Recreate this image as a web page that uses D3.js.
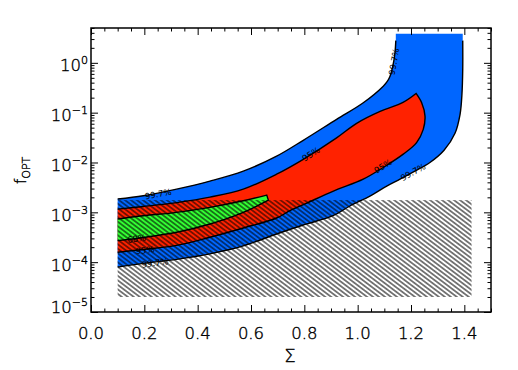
<!DOCTYPE html>
<html>
<head>
<meta charset="utf-8">
<script src="https://cdn.jsdelivr.net/npm/d3@7"></script>
<style>
  body { margin: 0; background: #fff; }
  text { font-family: "DejaVu Sans", sans-serif; fill: #000; }
  .light { font-weight: 200; stroke: #000; stroke-width: 0.4px; }
</style>
</head>
<body>
<svg id="canvas"></svg>
<script>
// confidence contours, points are [sigma, f_opt]
let c997Upper = [[0.10, 1.85e-3], [0.196, 2.15e-3], [0.321, 2.92e-3], [0.446, 4.23e-3], [0.571, 6.70e-3],
                 [0.696, 1.34e-2], [0.796, 2.79e-2], [0.921, 7.35e-2], [1.021, 0.158], [1.096, 0.34],
                 [1.111, 0.423], [1.121, 0.532], [1.133, 0.925], [1.14, 1.61], [1.143, 2.79]]
let c997Lower = [[1.394, 2.79], [1.394, 0.734], [1.391, 0.232], [1.384, 0.0925], [1.365, 0.0385],
                 [1.324, 0.0176], [1.271, 0.0100], [1.2075, 6.4e-3], [1.159, 4.63e-3], [1.109, 3.36e-3],
                 [1.046, 2.12e-3], [0.971, 1.34e-3], [0.9075, 8.55e-4], [0.796, 5.57e-4], [0.696, 3.68e-4],
                 [0.571, 2.12e-4], [0.446, 1.47e-4], [0.321, 1.14e-4], [0.196, 9.46e-5], [0.10, 7.94e-5]]
let c997Top = 3.85

let c95Upper = [[0.10, 1.16e-3], [0.196, 1.31e-3], [0.321, 1.57e-3], [0.446, 2.02e-3], [0.571, 2.92e-3],
                [0.696, 5.83e-3], [0.796, 1.16e-2], [0.921, 3.13e-2], [0.996, 6.11e-2], [1.084, 0.106],
                [1.17, 0.161], [1.219, 0.243]]
let c95Lower = [[1.219, 0.243], [1.24, 0.158], [1.2525, 0.0855], [1.246, 0.0463], [1.221, 0.0251],
                [1.171, 0.0147], [1.096, 7.94e-3], [1.021, 4.63e-3], [0.909, 2.67e-3], [0.809, 1.53e-3],
                [0.746, 1.08e-3], [0.696, 7.69e-4], [0.571, 4.85e-4], [0.446, 3.16e-4], [0.321, 2.17e-4],
                [0.196, 1.80e-4], [0.10, 1.58e-4]]

let c68Upper = [[0.10, 7.35e-4], [0.196, 8.55e-4], [0.321, 1.0e-3], [0.446, 1.26e-3], [0.571, 1.71e-3], [0.659, 2.22e-3]]
let c68Lower = [[0.665, 1.76e-3], [0.571, 1.0e-3], [0.446, 5.83e-4], [0.321, 3.98e-4], [0.196, 3.13e-4], [0.10, 2.70e-4]]

// excluded (hatched) box
let hatchX = [0.1, 1.427]
let hatchY = [2e-5, 1.76e-3]

let labelText  = ['99.7%', '99.7%', '95%', '95%', '99.7%', '68%', '95%', '99.7%']
let labelX     = [1.136, 0.252, 0.825, 1.095, 1.2075, 0.171, 0.2025, 0.24]
let labelY     = [1.06, 2.32e-3, 0.0147, 8.43e-3, 6.4e-3, 2.96e-4, 1.74e-4, 9.6e-5]
let labelAngle = [-80, -10, -32, -32, -29, -8, -7, -7]

let xTicks = [0, 0.2, 0.4, 0.6, 0.8, 1.0, 1.2, 1.4]
let yTicks = [1e-5, 1e-4, 1e-3, 1e-2, 1e-1, 1]
let yTickExp = ['\u22125', '\u22124', '\u22123', '\u22122', '\u22121', '0']

let colors = ['#0066ff', '#ff2200', '#33ff33']

//dimensions
let width = 518
let height = 370
let plotLeft = 91, plotRight = 491, plotTop = 28, plotBottom = 312

let canvas = d3.select('#canvas')
               .attr('width', width)
               .attr('height', height)

let x = d3.scaleLinear().domain([0, 1.5]).range([plotLeft, plotRight])
let y = d3.scaleLog().domain([1e-5, 5]).range([plotBottom, plotTop])

let curve = d3.line().x(d => x(d[0])).y(d => y(d[1])).curve(d3.curveCatmullRom.alpha(0.5))
let straight = d3.line().x(d => x(d[0])).y(d => y(d[1]))

// stick several path pieces into one closed shape
let join = (...parts) => parts.map((p, i) => i === 0 ? p : p.replace(/^M/, 'L')).join('') + 'Z'

let defs = canvas.append('defs')
defs.append('clipPath').attr('id', 'plot-clip')
    .append('rect')
    .attr('x', plotLeft).attr('y', plotTop)
    .attr('width', plotRight - plotLeft).attr('height', plotBottom - plotTop)

let pattern = defs.append('pattern')
                  .attr('id', 'hatch')
                  .attr('patternUnits', 'userSpaceOnUse')
                  .attr('width', 10)
                  .attr('height', 3.6)
                  .attr('patternTransform', 'rotate(37)')
pattern.append('line')
       .attr('x1', 0).attr('x2', 10)
       .attr('y1', 1.8).attr('y2', 1.8)
       .attr('stroke', '#000')
       .attr('stroke-width', 1)

let plot = canvas.append('g').attr('clip-path', 'url(#plot-clip)')

// filled regions
plot.append('path')
    .attr('d', join(curve(c997Upper),
                    straight([[c997Upper[c997Upper.length - 1][0], c997Top], [c997Lower[0][0], c997Top]]),
                    curve(c997Lower)))
    .attr('fill', colors[0])

plot.append('path')
    .attr('d', join(curve(c95Upper), curve(c95Lower)))
    .attr('fill', colors[1])

plot.append('path')
    .attr('d', join(curve(c68Upper), curve(c68Lower)))
    .attr('fill', colors[2])

plot.append('rect')
    .attr('x', x(hatchX[0]))
    .attr('y', y(hatchY[1]))
    .attr('width', x(hatchX[1]) - x(hatchX[0]))
    .attr('height', y(hatchY[0]) - y(hatchY[1]))
    .attr('fill', 'url(#hatch)')

// contour lines
let outlines = [curve(c997Upper), curve(c997Lower),
                curve(c95Upper) + curve(c95Lower).replace(/^M/, 'L'),
                curve(c68Upper) + curve(c68Lower).replace(/^M/, 'L')]

plot.selectAll('.contour')
    .data(outlines)
    .enter()
    .append('path')
    .attr('class', 'contour')
    .attr('d', d => d)
    .attr('fill', 'none')
    .attr('stroke', '#000')
    .attr('stroke-width', 1.4)

plot.selectAll('.clabel')
    .data(labelText)
    .enter()
    .append('text')
    .attr('class', 'clabel')
    .attr('transform', (d, i) => 'translate(' + x(labelX[i]) + ',' + y(labelY[i]) + ') rotate(' + labelAngle[i] + ')')
    .attr('text-anchor', 'middle')
    .attr('dy', '0.35em')
    .style('font-size', '8.5px')
    .text(d => d)

// ticks, all pointing inwards
let xMinor = d3.range(0, 1.5001, 0.05).filter(v => Math.abs(v / 0.2 - Math.round(v / 0.2)) > 1e-6)
let yMinor = []
for (let e = -5; e <= 0; e++) {
    for (let m = 2; m <= 9; m++) {
        if (m * Math.pow(10, e) <= 5) yMinor.push(m * Math.pow(10, e))
    }
}

let addAxis = (axis, tx, ty) => {
    canvas.append('g')
          .attr('transform', 'translate(' + tx + ',' + ty + ')')
          .call(axis)
          .call(g => g.select('.domain').remove())
          .call(g => g.selectAll('line').attr('stroke', '#000').attr('stroke-width', 1))
}

addAxis(d3.axisBottom(x).tickValues(xTicks).tickSize(-7).tickFormat(''), 0, plotBottom)
addAxis(d3.axisBottom(x).tickValues(xMinor).tickSize(-3.5).tickFormat(''), 0, plotBottom)
addAxis(d3.axisTop(x).tickValues(xTicks).tickSize(-7).tickFormat(''), 0, plotTop)
addAxis(d3.axisTop(x).tickValues(xMinor).tickSize(-3.5).tickFormat(''), 0, plotTop)
addAxis(d3.axisLeft(y).tickValues(yTicks).tickSize(-7).tickFormat(''), plotLeft, 0)
addAxis(d3.axisLeft(y).tickValues(yMinor).tickSize(-3.5).tickFormat(''), plotLeft, 0)
addAxis(d3.axisRight(y).tickValues(yTicks).tickSize(-7).tickFormat(''), plotRight, 0)
addAxis(d3.axisRight(y).tickValues(yMinor).tickSize(-3.5).tickFormat(''), plotRight, 0)

canvas.append('rect')
      .attr('x', plotLeft).attr('y', plotTop)
      .attr('width', plotRight - plotLeft).attr('height', plotBottom - plotTop)
      .attr('fill', 'none')
      .attr('stroke', '#000')
      .attr('stroke-width', 1.5)

// tick labels
canvas.selectAll('.xlabel')
      .data(xTicks)
      .enter()
      .append('text')
      .attr('class', 'xlabel light')
      .attr('x', d => x(d))
      .attr('y', plotBottom + 27)
      .attr('text-anchor', 'middle')
      .style('font-size', '16.5px')
      .text(d => d3.format('.1f')(d))

let ylab = canvas.selectAll('.ylabel')
                 .data(yTicks)
                 .enter()
                 .append('text')
                 .attr('class', 'ylabel light')
                 .attr('x', plotLeft - 3)
                 .attr('y', d => Math.min(y(d) + 8.5, plotBottom + 0.5))
                 .attr('text-anchor', 'end')
                 .style('font-size', '16.5px')
ylab.append('tspan').text('10')
ylab.append('tspan')
    .attr('dy', -7)
    .style('font-size', '11px')
    .text((d, i) => yTickExp[i])

// axis titles
canvas.append('text')
      .attr('class', 'light')
      .attr('x', (plotLeft + plotRight) / 2 - 1)
      .attr('y', 362)
      .attr('text-anchor', 'middle')
      .style('font-size', '18px')
      .text('\u03a3')

let ytitle = canvas.append('text')
                   .attr('class', 'light')
                   .attr('transform', 'translate(26,184) rotate(-90)')
                   .style('font-size', '15px')
ytitle.append('tspan').text('f')
ytitle.append('tspan').attr('dy', 4).style('font-size', '11px').text('OPT')
</script>
</body>
</html>
